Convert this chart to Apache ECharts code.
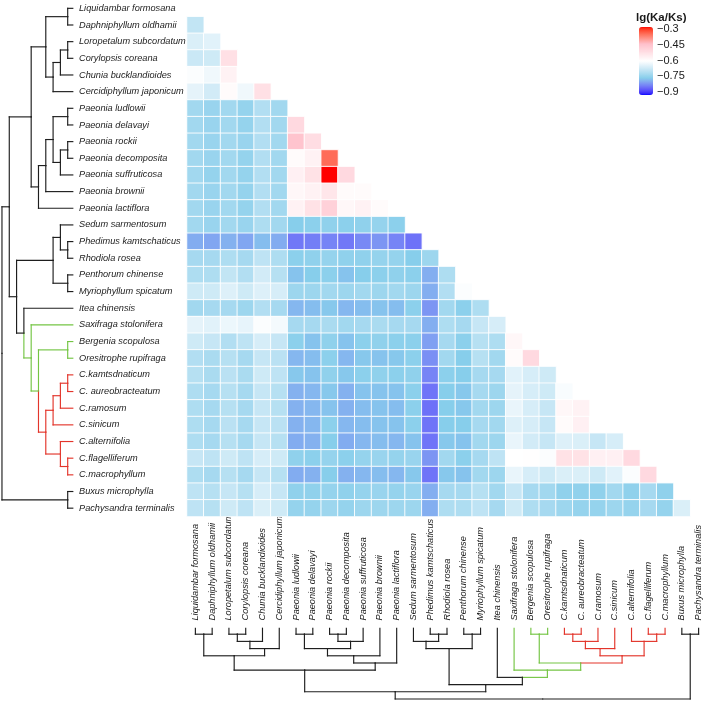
<!DOCTYPE html>
<html>
<head>
<meta charset="utf-8">
<script src="https://cdn.jsdelivr.net/npm/echarts@6/dist/echarts.min.js"></script>
<style>html,body{margin:0;padding:0;background:#fff}#c{width:709px;height:702px}</style>
</head>
<body>
<div id="c"></div>
<script>
// ---------- data ----------
const species = [
  'Liquidambar formosana','Daphniphyllum oldhamii','Loropetalum subcordatum','Corylopsis coreana',
  'Chunia bucklandioides','Cercidiphyllum japonicum','Paeonia ludlowii','Paeonia delavayi',
  'Paeonia rockii','Paeonia decomposita','Paeonia suffruticosa','Paeonia brownii','Paeonia lactiflora',
  'Sedum sarmentosum','Phedimus kamtschaticus','Rhodiola rosea','Penthorum chinense',
  'Myriophyllum spicatum','Itea chinensis','Saxifraga stolonifera','Bergenia scopulosa',
  'Oresitrophe rupifraga','C.kamtsdnaticum','C. aureobracteatum','C.ramosum','C.sinicum',
  'C.alternifolia','C.flagelliferum','C.macrophyllum','Buxus microphylla','Pachysandra terminalis'
];

// lower-triangle lg(Ka/Ks): row i lists values against species 0..i-1
const lgRows = [
  [],
  [-0.68],
  [-0.65,-0.64],
  [-0.67,-0.665,-0.525],
  [-0.605,-0.62,-0.57,-0.6],
  [-0.635,-0.66,-0.59,-0.62,-0.525],
  [-0.72,-0.73,-0.72,-0.735,-0.70,-0.72],
  [-0.72,-0.73,-0.72,-0.735,-0.70,-0.72,-0.51],
  [-0.72,-0.73,-0.72,-0.73,-0.70,-0.72,-0.46,-0.52],
  [-0.72,-0.73,-0.72,-0.735,-0.70,-0.72,-0.59,-0.57,-0.36],
  [-0.72,-0.735,-0.72,-0.735,-0.70,-0.72,-0.565,-0.53,-0.30,-0.51],
  [-0.72,-0.73,-0.72,-0.735,-0.70,-0.72,-0.58,-0.57,-0.54,-0.59,-0.59],
  [-0.72,-0.73,-0.72,-0.735,-0.70,-0.72,-0.57,-0.53,-0.49,-0.58,-0.57,-0.59],
  [-0.72,-0.73,-0.72,-0.73,-0.705,-0.72,-0.75,-0.745,-0.74,-0.745,-0.74,-0.735,-0.745],
  [-0.78,-0.785,-0.775,-0.785,-0.765,-0.78,-0.825,-0.82,-0.815,-0.825,-0.81,-0.80,-0.815,-0.83],
  [-0.715,-0.715,-0.705,-0.715,-0.685,-0.705,-0.745,-0.74,-0.735,-0.74,-0.74,-0.735,-0.735,-0.75,-0.725],
  [-0.705,-0.705,-0.68,-0.70,-0.66,-0.695,-0.76,-0.75,-0.745,-0.76,-0.75,-0.745,-0.74,-0.745,-0.778,-0.705],
  [-0.665,-0.665,-0.645,-0.665,-0.645,-0.655,-0.725,-0.725,-0.72,-0.725,-0.72,-0.725,-0.72,-0.725,-0.778,-0.70,-0.605],
  [-0.72,-0.715,-0.715,-0.725,-0.70,-0.715,-0.77,-0.765,-0.755,-0.77,-0.765,-0.76,-0.765,-0.745,-0.80,-0.72,-0.745,-0.705],
  [-0.635,-0.64,-0.625,-0.632,-0.605,-0.615,-0.715,-0.715,-0.71,-0.72,-0.715,-0.71,-0.715,-0.715,-0.778,-0.705,-0.715,-0.675,-0.655],
  [-0.665,-0.675,-0.70,-0.685,-0.655,-0.675,-0.745,-0.76,-0.74,-0.76,-0.745,-0.74,-0.745,-0.745,-0.79,-0.715,-0.745,-0.695,-0.705,-0.58],
  [-0.70,-0.71,-0.695,-0.715,-0.675,-0.69,-0.77,-0.765,-0.745,-0.77,-0.755,-0.76,-0.755,-0.745,-0.805,-0.72,-0.75,-0.695,-0.72,-0.59,-0.51],
  [-0.695,-0.71,-0.69,-0.71,-0.665,-0.685,-0.755,-0.76,-0.74,-0.755,-0.745,-0.74,-0.745,-0.74,-0.815,-0.745,-0.75,-0.715,-0.715,-0.64,-0.655,-0.665],
  [-0.705,-0.715,-0.695,-0.715,-0.675,-0.695,-0.775,-0.77,-0.755,-0.775,-0.76,-0.76,-0.76,-0.745,-0.828,-0.75,-0.755,-0.715,-0.725,-0.635,-0.655,-0.665,-0.61],
  [-0.705,-0.715,-0.695,-0.715,-0.675,-0.695,-0.775,-0.77,-0.76,-0.775,-0.765,-0.76,-0.765,-0.745,-0.832,-0.75,-0.755,-0.72,-0.725,-0.63,-0.655,-0.675,-0.58,-0.57],
  [-0.705,-0.715,-0.69,-0.715,-0.675,-0.69,-0.775,-0.77,-0.745,-0.77,-0.765,-0.76,-0.76,-0.745,-0.828,-0.75,-0.75,-0.715,-0.72,-0.645,-0.655,-0.675,-0.59,-0.565,-0.6],
  [-0.705,-0.715,-0.695,-0.715,-0.675,-0.695,-0.78,-0.775,-0.75,-0.78,-0.77,-0.765,-0.77,-0.76,-0.828,-0.755,-0.76,-0.72,-0.725,-0.63,-0.66,-0.675,-0.645,-0.65,-0.675,-0.655],
  [-0.675,-0.685,-0.665,-0.685,-0.655,-0.665,-0.74,-0.745,-0.735,-0.745,-0.735,-0.73,-0.735,-0.73,-0.80,-0.72,-0.745,-0.715,-0.685,-0.60,-0.597,-0.605,-0.53,-0.53,-0.565,-0.565,-0.51],
  [-0.705,-0.715,-0.695,-0.715,-0.675,-0.695,-0.78,-0.775,-0.75,-0.775,-0.77,-0.765,-0.77,-0.755,-0.828,-0.755,-0.76,-0.72,-0.725,-0.63,-0.655,-0.665,-0.65,-0.65,-0.665,-0.64,-0.605,-0.51],
  [-0.685,-0.695,-0.675,-0.695,-0.655,-0.675,-0.74,-0.74,-0.735,-0.74,-0.735,-0.73,-0.735,-0.73,-0.778,-0.715,-0.715,-0.695,-0.72,-0.675,-0.715,-0.72,-0.74,-0.74,-0.74,-0.72,-0.74,-0.715,-0.74],
  [-0.685,-0.695,-0.665,-0.685,-0.65,-0.665,-0.735,-0.735,-0.725,-0.735,-0.725,-0.725,-0.725,-0.725,-0.778,-0.705,-0.705,-0.685,-0.715,-0.665,-0.705,-0.715,-0.725,-0.735,-0.735,-0.725,-0.735,-0.715,-0.735,-0.65]
];

// dendrogram (shared by both sides): joins of leaves (L#) or earlier joins (M#)
const treeMerges = [
  ['L0','L1'],['L2','L3'],['M2','L4'],['M3','L5'],['M1','M4'],
  ['L6','L7'],['L8','L9'],['M7','L10'],['M6','M8'],['M9','L11'],['M10','L12'],['M5','M11'],
  ['L14','L15'],['L13','M13'],['L16','L17'],['M14','M15'],
  ['L20','L21'],['L22','L23'],['M18','L24'],['M19','L25'],['L27','L28'],['L26','M21'],
  ['M20','M22'],['M17','M23'],['L19','M24'],['L18','M25'],['M16','M26'],['M12','M27'],
  ['L29','L30'],['M28','M29']
];
const treeHeights = [1,1,2,3,4, 1,1,2,3,4,5,6, 1,2,1,3, 1,1,2,3,1,2, 4,5,6,7,8,9, 1,10];
const redLeaves = [22,23,24,25,26,27,28];
const greenLeaves = [19,20,21,22,23,24,25,26,27,28];

// colour scale
const scaleValues = [-0.9,-0.75,-0.6,-0.45,-0.3];
const scaleColors = ['#0000FF','#87CEEB','#FFFFFF','#FFC0CB','#FF0000'];
const legendTicks = [-0.9,-0.75,-0.6,-0.45,-0.3];

// ---------- helpers ----------
function hex2rgb(h){h=h.replace('#','');return [0,2,4].map(i=>parseInt(h.substr(i,2),16));}
function toLin(c){c/=255;return c<=0.04045?c/12.92:Math.pow((c+0.055)/1.055,2.4);}
function fromLin(c){c=c<=0.0031308?12.92*c:1.055*Math.pow(c,1/2.4)-0.055;return Math.max(0,Math.min(255,Math.round(c*255)));}
const WN=[0.95047,1,1.08883];
function rgb2lab(rgb){
  const [r,g,b]=rgb.map(toLin);
  const X=0.4124*r+0.3576*g+0.1805*b, Y=0.2126*r+0.7152*g+0.0722*b, Z=0.0193*r+0.1192*g+0.9505*b;
  const f=t=>t>0.008856?Math.cbrt(t):7.787*t+16/116;
  const fx=f(X/WN[0]), fy=f(Y/WN[1]), fz=f(Z/WN[2]);
  return [116*fy-16,500*(fx-fy),200*(fy-fz)];
}
function lab2hex(lab){
  const fy=(lab[0]+16)/116, fx=fy+lab[1]/500, fz=fy-lab[2]/200;
  const fi=f=>{const c=f*f*f;return c>0.008856?c:(f-16/116)/7.787;};
  const X=WN[0]*fi(fx), Y=WN[1]*fi(fy), Z=WN[2]*fi(fz);
  const r=3.2406*X-1.5372*Y-0.4986*Z, g=-0.9689*X+1.8758*Y+0.0415*Z, b=0.0557*X-0.2040*Y+1.0570*Z;
  return '#'+[r,g,b].map(v=>fromLin(v).toString(16).padStart(2,'0')).join('');
}
const scaleLab = scaleColors.map(c=>rgb2lab(hex2rgb(c)));
function colorAt(v){
  for(let k=0;k<scaleValues.length-1;k++){
    if(v<=scaleValues[k+1]||k===scaleValues.length-2){
      const t=Math.max(0,Math.min(1,(v-scaleValues[k])/(scaleValues[k+1]-scaleValues[k])));
      const a=scaleLab[k], b=scaleLab[k+1];
      return lab2hex([0,1,2].map(i=>a[i]+(b[i]-a[i])*t));
    }
  }
}
const rampColors=[];
for(let s=0;s<=120;s++){rampColors.push(colorAt(-0.9+0.6*s/120));}

// heatmap data
const heatData=[];
lgRows.forEach((row,i)=>row.forEach((v,j)=>heatData.push([j,i,v])));

// tree geometry (in data units: position = leaf index, height = join level)
function buildTree(tipH){
  const nodes={};
  for(let i=0;i<species.length;i++){nodes['L'+i]={pos:i,h:tipH,leaves:[i]};}
  treeMerges.forEach((m,k)=>{
    const a=nodes[m[0]], b=nodes[m[1]];
    nodes['M'+(k+1)]={pos:(a.pos+b.pos)/2,h:treeHeights[k],leaves:a.leaves.concat(b.leaves),kids:[a,b]};
  });
  const colorOf=n=>n.leaves.every(l=>redLeaves.includes(l))?1:(n.leaves.every(l=>greenLeaves.includes(l))?2:0);
  const segs=[];
  treeMerges.forEach((m,k)=>{
    const p=nodes['M'+(k+1)];
    p.kids.forEach(c=>{
      const col=colorOf(c);
      segs.push([p.pos,p.h,c.pos,p.h,col]);   // along leaf axis
      segs.push([c.pos,p.h,c.pos,c.h,col]);   // along height axis
    });
  });
  return segs;
}
const lineColors=['#1e1e1e','#E3352B','#74C544'];
const leftSegs=buildTree(0.3).map(s=>[s[1],s[0],s[3],s[2],s[4]]);   // x=height, y=position
const bottomSegs=buildTree(0.17);                                   // x=position, y=height

function segRender(params,api){
  const p1=api.coord([api.value(0),api.value(1)]);
  const p2=api.coord([api.value(2),api.value(3)]);
  return {type:'line',shape:{x1:p1[0],y1:p1[1],x2:p2[0],y2:p2[1]},
    style:{stroke:lineColors[api.value(4)],lineWidth:1.15,lineCap:'square'}};
}

const FONT='"Liberation Sans", Arial, Helvetica, sans-serif';
const fmt=v=>{const r=Math.round(v*100)/100;return String(r).replace('-','\u2212');};

const chart=echarts.init(document.getElementById('c'),null,{renderer:'canvas'});
chart.setOption({
  animation:false,
  backgroundColor:'#ffffff',
  title:{text:'lg(Ka/Ks)',left:636,top:12,padding:0,
    textStyle:{fontFamily:FONT,fontSize:11.5,fontWeight:'bold',color:'#1a1a1a'}},
  grid:[
    {left:187,top:-3.5,width:520,height:520},
    {left:0,top:-3.5,width:75,height:520},
    {left:187,top:627,width:520,height:75},
    {left:639,top:29,width:14,height:63}
  ],
  xAxis:[
    {gridIndex:0,type:'category',data:species,axisLine:{show:false},axisTick:{show:false},splitLine:{show:false},
      axisLabel:{interval:0,rotate:90,align:'left',verticalAlign:'middle',margin:104,
        fontFamily:FONT,fontStyle:'italic',fontSize:9.2,color:'#222'}},
    {gridIndex:1,type:'value',min:0,max:10.27,inverse:true,show:false},
    {gridIndex:2,type:'value',min:-0.5,max:30.5,show:false},
    {gridIndex:3,type:'value',min:0,max:1,show:false}
  ],
  yAxis:[
    {gridIndex:0,type:'category',data:species,inverse:true,axisLine:{show:false},axisTick:{show:false},splitLine:{show:false},
      axisLabel:{interval:0,align:'left',margin:108,fontFamily:FONT,fontStyle:'italic',fontSize:9.2,color:'#222'}},
    {gridIndex:1,type:'value',min:-0.5,max:30.5,inverse:true,show:false},
    {gridIndex:2,type:'value',min:0,max:10.42,inverse:true,show:false},
    {gridIndex:3,type:'value',min:legendTicks[0],max:legendTicks[legendTicks.length-1],interval:0.15,position:'right',
      axisLine:{show:false},splitLine:{show:false},
      axisTick:{show:true,inside:true,length:3,lineStyle:{color:'#ffffff',width:1}},
      axisLabel:{margin:4,fontFamily:FONT,fontSize:11,color:'#1a1a1a',formatter:fmt}},
    {gridIndex:3,type:'value',min:legendTicks[0],max:legendTicks[legendTicks.length-1],interval:0.15,position:'left',
      axisLine:{show:false},splitLine:{show:false},axisLabel:{show:false},
      axisTick:{show:true,inside:true,length:3,lineStyle:{color:'#ffffff',width:1}}}
  ],
  visualMap:{type:'continuous',min:-0.9,max:-0.3,seriesIndex:0,left:639,top:27,itemWidth:14,itemHeight:68,
    padding:0,calculable:false,hoverLink:false,text:['',''],textGap:0,showLabel:false,
    inRange:{color:rampColors},z:1},
  series:[
    {type:'heatmap',xAxisIndex:0,yAxisIndex:0,data:heatData,
      itemStyle:{borderColor:'#ffffff',borderWidth:0.9},emphasis:{disabled:true}},
    {type:'custom',xAxisIndex:1,yAxisIndex:1,data:leftSegs,renderItem:segRender,silent:true},
    {type:'custom',xAxisIndex:2,yAxisIndex:2,data:bottomSegs,renderItem:segRender,silent:true},
    {type:'custom',xAxisIndex:3,yAxisIndex:3,data:[],renderItem:()=>null,silent:true,z:5}
  ]
});
</script>
</body>
</html>
